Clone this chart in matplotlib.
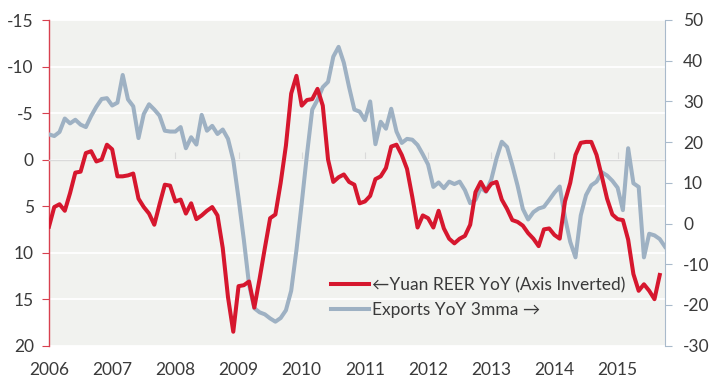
import matplotlib
matplotlib.use("Agg")
import matplotlib.pyplot as plt
import numpy as np

plt.rcParams['font.family'] = ['Lato', 'DejaVu Sans']

# Monthly data, Jan 2006 onwards
reer_yoy = [7.2, 5.1, 4.8, 5.5, 3.6, 1.4, 1.3, -0.7, -0.9, 0.2, 0.0, -1.6,
            -1.1, 1.8, 1.8, 1.7, 1.5, 4.2, 5.1, 5.8, 7.0, 4.8, 2.7, 2.8,
            4.5, 4.3, 5.8, 4.7, 6.4, 6.0, 5.5, 5.1, 6.0, 9.5, 14.8, 18.5,
            13.6, 13.5, 13.1, 15.9, 12.8, 9.5, 6.3, 5.9, 2.5, -1.5, -7.1, -9.0,
            -5.8, -6.4, -6.5, -7.6, -5.8, 0.0, 2.4, 1.9, 1.6, 2.4, 2.7, 4.7,
            4.5, 3.9, 2.1, 1.8, 0.9, -1.4, -1.6, -0.5, 1.0, 4.0, 7.3, 6.0,
            6.3, 7.3, 5.5, 7.4, 8.5, 9.0, 8.5, 8.2, 7.0, 3.5, 2.4, 3.4,
            2.6, 2.4, 4.3, 5.3, 6.5, 6.7, 7.1, 7.9, 8.5, 9.3, 7.5, 7.4,
            8.1, 8.5, 4.5, 2.5, -0.5, -1.8, -1.9, -1.9, -0.5, 1.8, 4.2, 5.9,
            6.4, 6.5, 8.6, 12.3, 14.1, 13.4, 14.1, 15.0, 12.4]

exports_3mma = [21.9, 21.5, 22.5, 25.8, 24.6, 25.5, 24.3, 23.7, 26.4, 28.7, 30.6, 30.8,
                29.0, 29.7, 36.5, 30.5, 28.8, 21.0, 26.9, 29.3, 28.0, 26.5, 22.8, 22.6,
                22.6, 23.7, 18.5, 21.2, 19.4, 26.7, 22.8, 24.0, 22.0, 23.1, 20.8, 15.6,
                6.2, -3.9, -15.0, -20.8, -21.8, -22.3, -23.3, -24.1, -23.2, -21.3, -16.5, -6.5,
                5.0, 17.0, 28.0, 30.4, 33.5, 34.8, 41.0, 43.4, 39.5, 33.5, 28.0, 27.5,
                25.4, 30.0, 19.5, 25.0, 23.3, 28.2, 22.6, 19.8, 20.8, 20.6, 19.3, 17.0,
                14.5, 9.0, 10.1, 8.7, 10.3, 9.7, 10.3, 8.2, 5.0, 5.8, 8.8, 7.8,
                10.8, 16.0, 20.1, 18.8, 14.3, 9.3, 3.6, 1.0, 2.8, 3.7, 4.1, 5.8,
                7.6, 9.1, 1.5, -4.5, -8.3, 2.0, 7.0, 9.4, 10.3, 12.6, 11.8, 10.5,
                8.8, 3.3, 18.5, 9.9, 9.0, -8.3, -2.5, -2.9, -3.8, -5.7]

start_year = 2006
year_ticks = list(range(2006, 2016))
left_ticks = [-15, -10, -5, 0, 5, 10, 15, 20]
right_ticks = [50, 40, 30, 20, 10, 0, -10, -20, -30]

red = '#D6172E'
grey = '#9EB1C3'
bg = '#F1F2EF'
txt = '#3A3A3A'

x_reer = start_year + np.arange(len(reer_yoy)) / 12.0
x_exp = start_year + np.arange(len(exports_3mma)) / 12.0

fig = plt.figure(figsize=(7.15, 3.87), dpi=100)
ax = fig.add_axes([49/715, 1-345.7/387, (665-49)/715, (345.7-20)/387])
ax.set_facecolor(bg)
ax.set_xlim(2006, 2006 + 117/12)
ax.set_ylim(20, -15)
ax.set_yticks(left_ticks)
ax.set_yticklabels([str(v) for v in left_ticks])
ax.grid(axis='y', color='white', linewidth=1.3)
ax.set_axisbelow(True)
for s in ['top', 'right']:
    ax.spines[s].set_visible(False)
ax.spines['left'].set_color('#D8404F')
ax.spines['left'].set_linewidth(1.0)
ax.tick_params(axis='y', colors='#D8404F', labelcolor=txt, labelsize=12.5, length=5, pad=6)
# x axis crossing at zero
ax.spines['bottom'].set_position(('data', 0))
ax.spines['bottom'].set_color('#DADADA')
ax.spines['bottom'].set_linewidth(1.0)
ax.set_xticks(year_ticks)
ax.tick_params(axis='x', direction='in', length=6, color='#DADADA', labelbottom=False)

sec = ax.secondary_xaxis('bottom')
sec.set_xticks(year_ticks)
sec.set_xticklabels([str(y) for y in year_ticks])
sec.tick_params(length=0, labelsize=12.5, labelcolor=txt, pad=12)
sec.spines['bottom'].set_visible(False)

ax2 = ax.twinx()
ax2.set_ylim(-30, 50)
ax2.set_yticks(right_ticks)
ax2.set_yticklabels([str(v) for v in right_ticks])
for s in ['top', 'left', 'bottom']:
    ax2.spines[s].set_visible(False)
ax2.spines['right'].set_color('#A9BACB')
ax2.tick_params(axis='y', colors='#A9BACB', labelcolor=txt, labelsize=12.5, length=5, pad=8)

l2, = ax2.plot(x_exp, exports_3mma, color=grey, linewidth=2.9, zorder=2,
               solid_joinstyle='round', label='Exports YoY 3mma \u2192')
l1, = ax2.plot(x_reer, reer_yoy, color=red, linewidth=2.9, zorder=3,
               transform=ax.transData, solid_joinstyle='round',
               label='\u2190Yuan REER YoY (Axis Inverted)')

leg = ax2.legend(handles=[l1, l2], loc='center left', bbox_to_anchor=(0.458, 0.148),
                 frameon=False, fontsize=12.5, handlelength=2.2, handletextpad=0.15,
                 borderpad=0, borderaxespad=0, labelspacing=0.5)
for t in leg.get_texts():
    t.set_color(txt)

fig.savefig('out.png', dpi=100)
